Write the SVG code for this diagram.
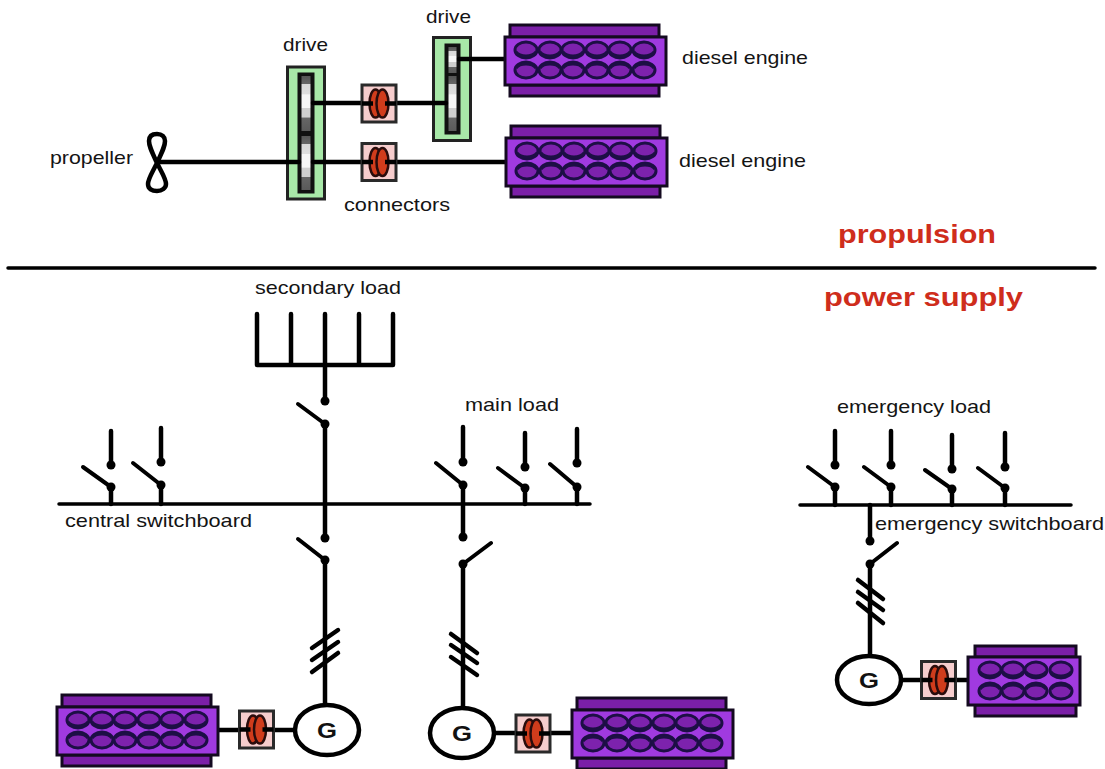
<svg xmlns="http://www.w3.org/2000/svg" width="1105" height="769" viewBox="0 0 1105 769">
<style>
text{font-family:"Liberation Sans",Arial,sans-serif;font-size:19px;fill:#141414}
.r{font-weight:bold;font-size:26px;fill:#cf2d1c}
.g{font-weight:bold;font-size:22px;fill:#111;text-anchor:middle}
.w{fill:none;stroke:#000;stroke-width:4.500;stroke-linecap:round;stroke-linejoin:round}
.b{fill:none;stroke:#000;stroke-width:4;stroke-linecap:round}
.d{fill:#000}
.band{fill:#7b1fa8;stroke:#140a20;stroke-width:3}
.body{fill:#a03ae0;stroke:#140a20;stroke-width:3}
.hole{fill:#7d22ad;stroke:#1d0f45;stroke-width:3}
.green{fill:#a8e8a8;stroke:#222;stroke-width:3}
.inner{stroke:#111;stroke-width:3}
.cp{fill:#f6cdcd;stroke:#2a2a2a;stroke-width:3}
.cl{fill:#d03c1c;stroke:#2a0c0c;stroke-width:2.500}
.gen{fill:#fff;stroke:#000;stroke-width:4.500}
</style>
<defs>
<linearGradient id="gear" x1="0" y1="0" x2="0" y2="1">
<stop offset="0" stop-color="#555"/><stop offset="0.14" stop-color="#666"/><stop offset="0.15" stop-color="#d8d8d8"/><stop offset="0.33" stop-color="#dedede"/><stop offset="0.34" stop-color="#f6f6f6"/><stop offset="0.58" stop-color="#f6f6f6"/><stop offset="0.59" stop-color="#cfcfcf"/><stop offset="0.75" stop-color="#cfcfcf"/><stop offset="0.76" stop-color="#666"/><stop offset="1" stop-color="#5a5a5a"/>
</linearGradient>
<g id="h1"><ellipse class="hole" rx="11" ry="8"/><path d="M-10 2A11 7 0 0 0 10 2" fill="none" stroke="#1d0f45" stroke-width="3"/></g>
<g id="h2"><ellipse class="hole" rx="11" ry="8"/><path d="M-10 -2A11 7 0 0 1 10 -2" fill="none" stroke="#1d0f45" stroke-width="3"/></g>
<g id="engine6">
<rect class="band" x="5" y="-12" width="149" height="12"/>
<rect class="band" x="5" y="48" width="149" height="11"/>
<rect class="body" width="161" height="48"/>
<use href="#h1" x="21" y="13"/><use href="#h1" x="45" y="13"/><use href="#h1" x="68" y="13"/><use href="#h1" x="92" y="13"/><use href="#h1" x="115" y="13"/><use href="#h1" x="139" y="13"/>
<use href="#h2" x="21" y="33"/><use href="#h2" x="45" y="33"/><use href="#h2" x="68" y="33"/><use href="#h2" x="92" y="33"/><use href="#h2" x="115" y="33"/><use href="#h2" x="139" y="33"/>
</g>
<g id="engine4">
<rect class="band" x="7" y="-11" width="101" height="11"/>
<rect class="band" x="7" y="48" width="101" height="11"/>
<rect class="body" width="112" height="48"/>
<use href="#h1" x="22" y="13"/><use href="#h1" x="45" y="13"/><use href="#h1" x="68" y="13"/><use href="#h1" x="93" y="13"/>
<use href="#h2" x="22" y="34"/><use href="#h2" x="45" y="34"/><use href="#h2" x="68" y="34"/><use href="#h2" x="93" y="34"/>
</g>
<g id="coupling">
<rect class="cp" x="-17" y="-18.500" width="34" height="37"/>
<ellipse class="cl" cx="-3.500" rx="6" ry="14"/>
<ellipse class="cl" cx="3.500" rx="6" ry="14"/>
<path d="M-17 0H-6M6 0H17" stroke="#000" stroke-width="4.500"/>
</g>
</defs>
<rect width="1105" height="769" fill="#fff"/>

<g id="drive-lower">
<rect class="green" x="287.500" y="67" width="37" height="132"/>
<rect class="inner" fill="#111" x="299" y="74" width="14" height="118"/>
<rect fill="url(#gear)" x="301.500" y="76" width="9" height="55"/>
<rect fill="url(#gear)" x="301.500" y="136" width="9" height="54"/>
</g>
<g id="drive-upper">
<rect class="green" x="433.500" y="37.500" width="37" height="103"/>
<rect class="inner" fill="#111" x="446" y="45" width="13" height="88"/>
<rect fill="url(#gear)" x="448.500" y="47" width="8" height="26"/>
<rect fill="url(#gear)" x="448.500" y="76" width="8" height="55"/>
</g>

<g id="connectors">
<path class="w" d="M8 268H1095" style="stroke-width:3.500"/>
<path class="w" d="M157 162H299M313 162H362M396 162H507M313 103H362M396 103H446M459 59H505"/>
<path class="w" d="M217 730H295M494 733H572M901 680H968"/>
<path class="w" d="M257 314V365H393V314M291 314V365M325 314V401M359 314V365"/>
<path class="b" d="M298 404L325 424"/><path class="w" d="M325 424V538M325 560V706"/>
<path class="b" d="M298 539L325 560"/>
<path class="w" d="M312 648L338 630M312 660L338 642M312 672L338 653"/>
<path class="w" d="M59 504H590M800 505H1071" style="stroke-width:3.500"/>
<path class="w" d="M111 431V465M111 487V504M161 428V462M161 485V504"/>
<path class="b" d="M83 467L111 487M133 463L161 485"/>
<path class="w" d="M463 427V462M463 485V537M463 564V708M525 433V467M525 488V504M577 429V463M577 487V504"/>
<path class="b" d="M436 463L463 485M498 468L525 488M550 464L577 487M463 564L491 543"/>
<path class="w" d="M451 634L477 653M451 645L477 663M451 657L477 675"/>
<path class="w" d="M835 431V465M835 487V505M891 431V465M891 487V505M952 435V469M952 489V505M1005 433V467M1005 488V505M870 505V541M870 564V656"/>
<path class="b" d="M808 467L835 487M864 467L891 487M925 470L952 489M978 468L1005 488M870 564L897 543"/>
<path class="w" d="M858 580L883 599M858 592L883 610M858 603L883 623"/>
<circle class="d" cx="325" cy="401" r="4.500"/><circle class="d" cx="325" cy="424" r="4.500"/><circle class="d" cx="325" cy="538" r="4.500"/><circle class="d" cx="325" cy="560" r="4.500"/>
<circle class="d" cx="111" cy="465" r="4.500"/><circle class="d" cx="111" cy="487" r="4.500"/><circle class="d" cx="161" cy="462" r="4.500"/><circle class="d" cx="161" cy="485" r="4.500"/>
<circle class="d" cx="463" cy="462" r="4.500"/><circle class="d" cx="463" cy="485" r="4.500"/><circle class="d" cx="463" cy="537" r="4.500"/><circle class="d" cx="463" cy="564" r="4.500"/>
<circle class="d" cx="525" cy="467" r="4.500"/><circle class="d" cx="525" cy="488" r="4.500"/><circle class="d" cx="577" cy="463" r="4.500"/><circle class="d" cx="577" cy="487" r="4.500"/>
<circle class="d" cx="835" cy="465" r="4.500"/><circle class="d" cx="835" cy="487" r="4.500"/><circle class="d" cx="891" cy="465" r="4.500"/><circle class="d" cx="891" cy="487" r="4.500"/>
<circle class="d" cx="952" cy="469" r="4.500"/><circle class="d" cx="952" cy="489" r="4.500"/><circle class="d" cx="1005" cy="467" r="4.500"/><circle class="d" cx="1005" cy="488" r="4.500"/>
<circle class="d" cx="870" cy="541" r="4.500"/><circle class="d" cx="870" cy="564" r="4.500"/>
</g>

<g id="propeller"><path d="M157 163C151 150 149 146 149 141C149 136 152 134 157 134C162 134 165 137 165 141C165 146 163 150 157 163C151 175 148 179 148 184C148 189 152 191 157 191C162 191 166 188 166 184C166 179 163 175 157 163Z" fill="none" stroke="#000" stroke-width="4.500"/></g>
<g id="coupling-1"><use href="#coupling" x="379" y="103.500"/></g>
<g id="coupling-2"><use href="#coupling" x="379" y="162"/></g>
<g id="coupling-3"><use href="#coupling" x="256.500" y="729.500"/></g>
<g id="coupling-4"><use href="#coupling" x="533" y="733.500"/></g>
<g id="coupling-5"><use href="#coupling" x="938.500" y="680"/></g>
<g id="engine-1"><use href="#engine6" x="505" y="37"/></g>
<g id="engine-2"><use href="#engine6" x="506" y="138"/></g>
<g id="engine-3"><use href="#engine6" x="57" y="707"/></g>
<g id="engine-4"><use href="#engine6" x="572" y="710"/></g>
<g id="engine-5"><use href="#engine4" x="968" y="657"/></g>
<g id="gen-1"><ellipse class="gen" cx="327" cy="730" rx="32" ry="25"/><text class="g" x="327" y="738" textLength="20" lengthAdjust="spacingAndGlyphs">G</text></g>
<g id="gen-2"><ellipse class="gen" cx="462" cy="733" rx="32" ry="25"/><text class="g" x="462" y="741" textLength="20" lengthAdjust="spacingAndGlyphs">G</text></g>
<g id="gen-3"><ellipse class="gen" cx="869" cy="680" rx="32" ry="24"/><text class="g" x="869" y="688" textLength="20" lengthAdjust="spacingAndGlyphs">G</text></g>

<g id="labels">
<text x="283" y="51" textLength="45" lengthAdjust="spacingAndGlyphs">drive</text>
<text x="426" y="23" textLength="45" lengthAdjust="spacingAndGlyphs">drive</text>
<text x="344" y="211" textLength="106" lengthAdjust="spacingAndGlyphs">connectors</text>
<text x="50" y="164" textLength="83" lengthAdjust="spacingAndGlyphs">propeller</text>
<text x="682" y="64" textLength="126" lengthAdjust="spacingAndGlyphs">diesel engine</text>
<text x="679" y="167" textLength="127" lengthAdjust="spacingAndGlyphs">diesel engine</text>
<text class="r" x="838" y="243" textLength="158" lengthAdjust="spacingAndGlyphs">propulsion</text>
<text class="r" x="824" y="306" textLength="199" lengthAdjust="spacingAndGlyphs">power supply</text>
<text x="255" y="294" textLength="146" lengthAdjust="spacingAndGlyphs">secondary load</text>
<text x="465" y="411" textLength="94" lengthAdjust="spacingAndGlyphs">main load</text>
<text x="837" y="413" textLength="154" lengthAdjust="spacingAndGlyphs">emergency load</text>
<text x="65" y="527" textLength="187" lengthAdjust="spacingAndGlyphs">central switchboard</text>
<text x="875" y="530" textLength="229" lengthAdjust="spacingAndGlyphs">emergency switchboard</text>
</g>
</svg>
